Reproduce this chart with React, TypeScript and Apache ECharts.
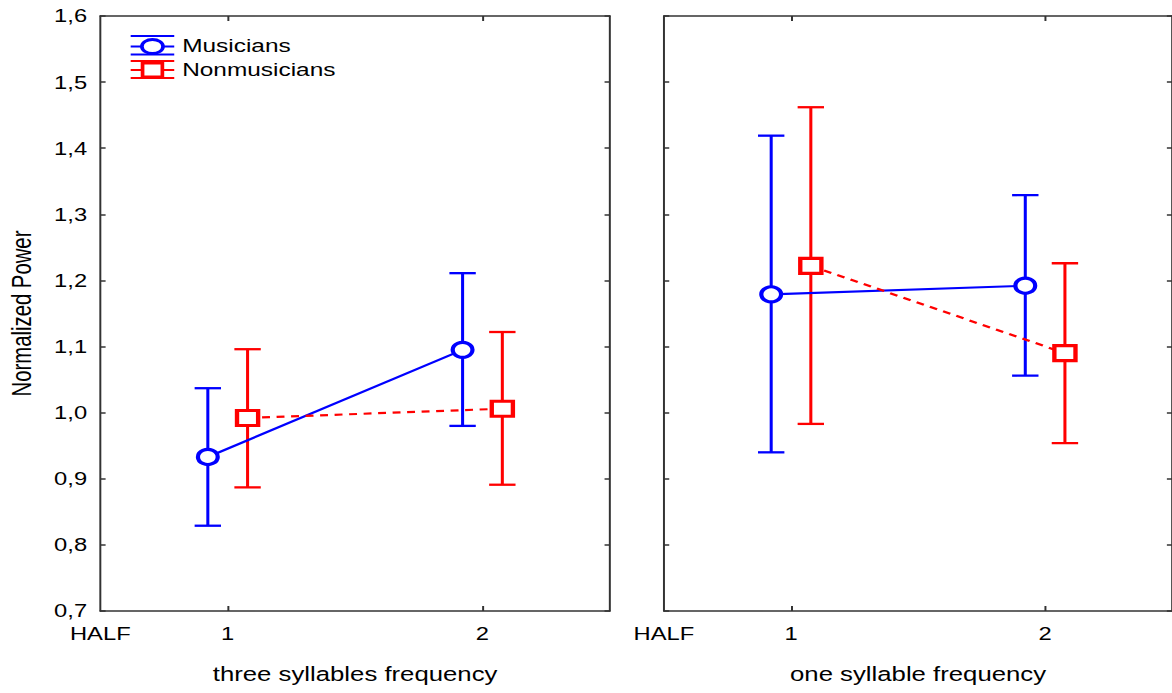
import React, { useEffect, useRef } from "react";
import * as echarts from "echarts";

// Factor levels on the x axis and the group offsets used to dodge the two groups
const levels = [1, 2];
const factorName = "HALF";
const panelTitles = ["three syllables frequency", "one syllable frequency"];
const yTickValues = [0.7, 0.8, 0.9, 1.0, 1.1, 1.2, 1.3, 1.4, 1.5, 1.6];

// Three syllables frequency: means and interval limits
const threeMusMean = [0.933, 1.095];
const threeMusLow = [0.829, 0.98];
const threeMusHigh = [1.037, 1.211];
const threeNonMean = [0.992, 1.006];
const threeNonLow = [0.887, 0.891];
const threeNonHigh = [1.096, 1.122];

// One syllable frequency: means and interval limits
const oneMusMean = [1.179, 1.192];
const oneMusLow = [0.94, 1.056];
const oneMusHigh = [1.419, 1.329];
const oneNonMean = [1.222, 1.09];
const oneNonLow = [0.983, 0.954];
const oneNonHigh = [1.462, 1.226];

const BLUE = "#0000ff";
const RED = "#ff0000";
const FONT = "Liberation Sans, Arial, Helvetica, sans-serif";
const MUS_OFFSET = -0.078;
const NON_OFFSET = 0.078;

// The plot is laid out on a narrower canvas and widened horizontally
const STRETCH = 1.32;
const INNER_W = 888;
const H = 693;

const AXIS_LINE = { show: true, lineStyle: { color: "#333", width: 1.5 } };

function errorRenderer(color: string) {
  return (_params: any, api: any) => {
    const x = api.value(0);
    const top = api.coord([x, api.value(2)]);
    const bot = api.coord([x, api.value(1)]);
    const hw = 10;
    const style = { stroke: color, lineWidth: 2.3, fill: "none" };
    return {
      type: "group",
      children: [
        { type: "line", shape: { x1: top[0], y1: top[1], x2: bot[0], y2: bot[1] }, style },
        { type: "line", shape: { x1: top[0] - hw, y1: top[1], x2: top[0] + hw, y2: top[1] }, style },
        { type: "line", shape: { x1: bot[0] - hw, y1: bot[1], x2: bot[0] + hw, y2: bot[1] }, style },
      ],
    };
  };
}

function groupSeries(
  panel: number,
  mean: number[],
  low: number[],
  high: number[],
  offset: number,
  color: string,
  name: string,
  symbol: string,
  dashed: boolean
) {
  const axisIdx = { xAxisIndex: panel * 2, yAxisIndex: panel * 2 };
  return [
    {
      type: "custom",
      name,
      ...axisIdx,
      renderItem: errorRenderer(color),
      encode: { x: 0, y: [1, 2] },
      data: levels.map((lv, i) => [lv + offset, low[i], high[i]]),
      z: 2,
      silent: true,
    },
    {
      type: "line",
      name,
      ...axisIdx,
      data: levels.map((lv, i) => [lv + offset, mean[i]]),
      symbol,
      symbolSize: symbol === "rect" ? [16, 15] : 15,
      showSymbol: true,
      itemStyle: { color: "#ffffff", borderColor: color, borderWidth: 3.2 },
      lineStyle: { color, width: 2.2, type: dashed ? [6, 5] : "solid" },
      z: 3,
      silent: true,
    },
  ];
}

function buildAxes(panel: number) {
  const showY = panel === 0;
  const xBottom = {
    type: "value",
    gridIndex: panel,
    position: "bottom",
    min: 0.5,
    max: 2.5,
    axisLine: AXIS_LINE,
    axisTick: { show: true, inside: true, length: 5, customValues: levels, lineStyle: { color: "#333", width: 1.5 } },
    axisLabel: {
      show: true,
      customValues: [0.5, ...levels],
      showMinLabel: true,
      formatter: (v: number) => (v === 0.5 ? factorName : String(v)),
      color: "#000",
      fontSize: 18,
      fontFamily: FONT,
      margin: 14,
    },
    splitLine: { show: false },
    name: panelTitles[panel],
    nameLocation: "middle",
    nameGap: 53,
    nameTextStyle: { color: "#000", fontSize: 19.5, fontFamily: FONT },
  };
  const xTop = {
    type: "value",
    gridIndex: panel,
    position: "top",
    min: 0.5,
    max: 2.5,
    axisLine: AXIS_LINE,
    axisTick: { show: true, inside: true, length: 5, customValues: levels, lineStyle: { color: "#333", width: 1.5 } },
    axisLabel: { show: false },
    splitLine: { show: false },
  };
  const yLeft: any = {
    type: "value",
    gridIndex: panel,
    position: "left",
    min: 0.7,
    max: 1.6,
    interval: 0.1,
    axisLine: AXIS_LINE,
    axisTick: { show: true, inside: true, length: 4, lineStyle: { color: "#333", width: 1.5 } },
    axisLabel: {
      show: showY,
      customValues: yTickValues,
      formatter: (v: number) => v.toFixed(1).replace(".", ","),
      color: "#000",
      fontSize: 18,
      fontFamily: FONT,
      margin: 10,
    },
    splitLine: { show: false },
  };
  if (showY) {
    yLeft.name = "Normalized Power";
    yLeft.nameLocation = "middle";
    yLeft.nameGap = 50;
    yLeft.nameTextStyle = { color: "#000", fontSize: 20.3, fontFamily: FONT };
  }
  const yRight = {
    type: "value",
    gridIndex: panel,
    position: "right",
    min: 0.7,
    max: 1.6,
    interval: 0.1,
    axisLine: AXIS_LINE,
    axisTick: { show: true, inside: true, length: 4, lineStyle: { color: "#333", width: 1.5 } },
    axisLabel: { show: false },
    splitLine: { show: false },
  };
  return { x: [xBottom, xTop], y: [yLeft, yRight] };
}

function legendGraphic() {
  const x1 = 99;
  const x2 = 132;
  const cx = (x1 + x2) / 2;
  const thin = (y: number, color: string) => ({
    type: "line",
    shape: { x1, y1: y, x2, y2: y },
    style: { stroke: color, lineWidth: 2.2 },
  });
  return [
    thin(36, BLUE),
    thin(46.5, BLUE),
    thin(54.5, BLUE),
    {
      type: "ellipse",
      shape: { cx, cy: 46.5, rx: 8, ry: 7 },
      style: { fill: "#fff", stroke: BLUE, lineWidth: 2.8 },
    },
    {
      type: "text",
      x: 138,
      y: 46,
      style: { text: "Musicians", fill: "#000", fontSize: 18.5, fontFamily: FONT, verticalAlign: "middle", align: "left" },
    },
    thin(61, RED),
    thin(70, RED),
    thin(78, RED),
    {
      type: "line",
      shape: { x1: cx, y1: 61, x2: cx, y2: 78 },
      style: { stroke: RED, lineWidth: 2.2 },
    },
    {
      type: "rect",
      shape: { x: cx - 7.5, y: 63, width: 15, height: 14 },
      style: { fill: "#fff", stroke: RED, lineWidth: 2.8 },
    },
    {
      type: "text",
      x: 138,
      y: 70,
      style: { text: "Nonmusicians", fill: "#000", fontSize: 18.5, fontFamily: FONT, verticalAlign: "middle", align: "left" },
    },
  ];
}

export default function App() {
  const ref = useRef<HTMLDivElement>(null);

  useEffect(() => {
    if (!ref.current) return;
    const chart = echarts.init(ref.current, undefined, { renderer: "svg", width: INNER_W, height: H });
    const a0 = buildAxes(0);
    const a1 = buildAxes(1);
    chart.setOption({
      animation: false,
      backgroundColor: "#ffffff",
      grid: [
        { left: 76, top: 16, width: 386, height: 595, containLabel: false },
        { left: 503, top: 16, width: 386, height: 595, containLabel: false },
      ],
      xAxis: [...a0.x, ...a1.x],
      yAxis: [...a0.y, ...a1.y],
      series: [
        ...groupSeries(0, threeMusMean, threeMusLow, threeMusHigh, MUS_OFFSET, BLUE, "Musicians", "circle", false),
        ...groupSeries(0, threeNonMean, threeNonLow, threeNonHigh, NON_OFFSET, RED, "Nonmusicians", "rect", true),
        ...groupSeries(1, oneMusMean, oneMusLow, oneMusHigh, MUS_OFFSET, BLUE, "Musicians", "circle", false),
        ...groupSeries(1, oneNonMean, oneNonLow, oneNonHigh, NON_OFFSET, RED, "Nonmusicians", "rect", true),
      ],
      graphic: legendGraphic(),
    });
    return () => chart.dispose();
  }, []);

  return (
    <div
      ref={ref}
      style={{
        position: "fixed",
        left: 0,
        top: 0,
        width: INNER_W,
        height: H,
        transform: `scaleX(${STRETCH})`,
        transformOrigin: "0 0",
        background: "#fff",
      }}
    />
  );
}
